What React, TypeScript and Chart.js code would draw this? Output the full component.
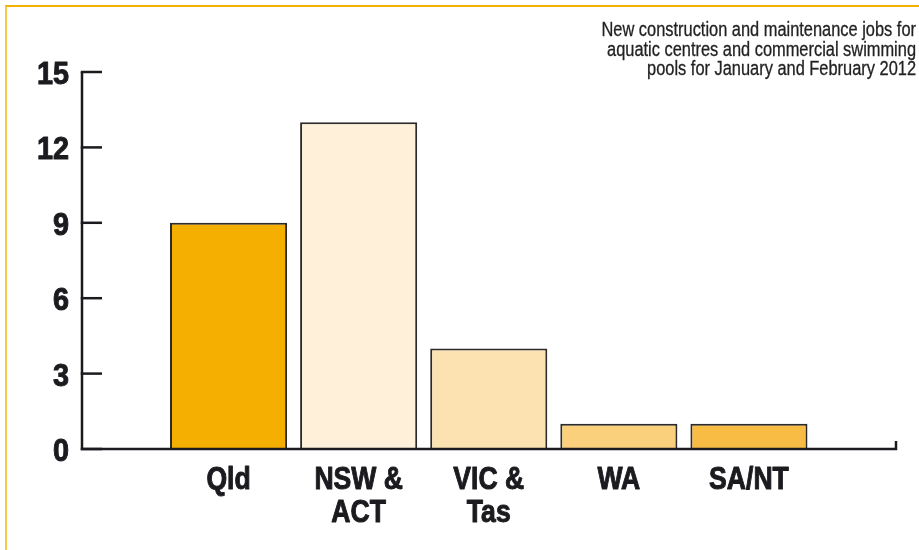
import React, { useEffect, useRef } from "react";
import { Chart, registerables } from "chart.js";

Chart.register(...registerables);

const categories: (string | string[])[] = ["Qld", ["NSW &", "ACT"], ["VIC &", "Tas"], "WA", "SA/NT"];
const jobs: number[] = [9, 13, 4, 1, 1];
const barColors: string[] = ["#F5AF00", "#FEF0D9", "#FDE2B1", "#FBD07C", "#F8BB43"];
const yTicks: number[] = [0, 3, 6, 9, 12, 15];
const titleLines: string[] = [
  "New construction and maintenance jobs for",
  "aquatic centres and commercial swimming",
  "pools for January and February 2012",
];

const FONT = "'Liberation Sans', Arial, sans-serif";
const INK = "#1b1b1f";
const NARROW = 0.83;

function narrowText(
  ctx: CanvasRenderingContext2D,
  text: string,
  x: number,
  y: number,
  align: "left" | "right" | "center",
  sx: number,
  stroke: number
) {
  ctx.save();
  ctx.translate(x, y);
  ctx.scale(sx, 1);
  ctx.textAlign = align;
  ctx.textBaseline = "alphabetic";
  if (stroke > 0) {
    ctx.lineWidth = stroke;
    ctx.lineJoin = "round";
    ctx.strokeText(text, 0, 0);
  }
  ctx.fillText(text, 0, 0);
  ctx.restore();
}

const axesPlugin = {
  id: "customAxes",
  afterDatasetsDraw(chart: any) {
    const { ctx, chartArea, scales } = chart;
    const y = scales.y;
    const x = scales.x;
    const x0 = chartArea.left - 81.5;
    const yTop = y.getPixelForValue(yTicks[yTicks.length - 1]);
    const yBot = y.getPixelForValue(0);
    const xEnd = chartArea.right + 82;
    ctx.save();
    ctx.strokeStyle = INK;
    ctx.lineWidth = 2.5;
    ctx.lineCap = "butt";
    ctx.beginPath();
    ctx.moveTo(x0, yTop);
    ctx.lineTo(x0, yBot);
    ctx.lineTo(xEnd, yBot);
    ctx.lineTo(xEnd, yBot - 8);
    ctx.stroke();
    yTicks.forEach((v) => {
      const py = y.getPixelForValue(v);
      ctx.beginPath();
      ctx.moveTo(x0 - 1.25, py);
      ctx.lineTo(x0 + 20, py);
      ctx.stroke();
    });

    // tick labels
    ctx.fillStyle = INK;
    ctx.strokeStyle = INK;
    ctx.font = `bold 32px ${FONT}`;
    yTicks.forEach((v) => {
      const py = y.getPixelForValue(v);
      narrowText(ctx, String(v), x0 - 13, py + 12, "right", 0.9, 1);
    });
    categories.forEach((c, i) => {
      const px = x.getPixelForTick(i);
      const lines = Array.isArray(c) ? c : [c];
      lines.forEach((ln, j) => {
        narrowText(ctx, ln, px, yBot + 40 + j * 33, "center", NARROW, 1);
      });
    });
    ctx.restore();
  },
};

const titlePlugin = {
  id: "cornerTitle",
  afterDraw(chart: any) {
    const { ctx } = chart;
    ctx.save();
    ctx.fillStyle = "#222222";
    ctx.strokeStyle = "#222222";
    ctx.font = `20px ${FONT}`;
    titleLines.forEach((t, i) => {
      narrowText(ctx, t, 916, 36 + i * 19.5, "right", 0.82, 0.3);
    });
    ctx.restore();
  },
};

export default function App() {
  const ref = useRef<HTMLCanvasElement | null>(null);
  useEffect(() => {
    if (!ref.current) return;
    const chart = new Chart(ref.current, {
      type: "bar",
      data: {
        labels: categories as any,
        datasets: [
          {
            data: jobs,
            backgroundColor: barColors,
            borderColor: "#2b2b2b",
            borderWidth: 2,
            borderSkipped: "start",
            barPercentage: 0.9,
            categoryPercentage: 1,
          },
        ],
      },
      options: {
        animation: false,
        responsive: true,
        maintainAspectRatio: false,
        layout: { padding: { left: 0, right: 105, top: 72, bottom: 0 } },
        plugins: {
          legend: { display: false },
          title: { display: false },
          tooltip: { enabled: false },
        },
        scales: {
          x: {
            offset: true,
            grid: { display: false, drawTicks: false },
            border: { display: false },
            ticks: { display: false, autoSkip: false },
            afterFit(scale: any) {
              scale.height = 101;
            },
          },
          y: {
            min: 0,
            max: 15,
            grid: { display: false, drawTicks: false },
            border: { display: false },
            ticks: { display: false, stepSize: 3 },
            afterFit(scale: any) {
              scale.width = 163.5;
            },
          },
        },
      },
      plugins: [axesPlugin, titlePlugin],
    });
    return () => chart.destroy();
  }, []);

  return (
    <div style={{ position: "absolute", left: 0, top: 0, width: 919, height: 550, background: "#ffffff" }}>
      <div
        style={{
          position: "absolute",
          left: 5,
          top: 5,
          right: 0,
          bottom: 0,
          borderTop: "2px solid #F6B100",
          borderLeft: "2.5px solid #F9C64A",
          boxSizing: "border-box",
        }}
      />
      <canvas ref={ref} style={{ position: "absolute", left: 0, top: 0, width: 919, height: 550 }} />
    </div>
  );
}
